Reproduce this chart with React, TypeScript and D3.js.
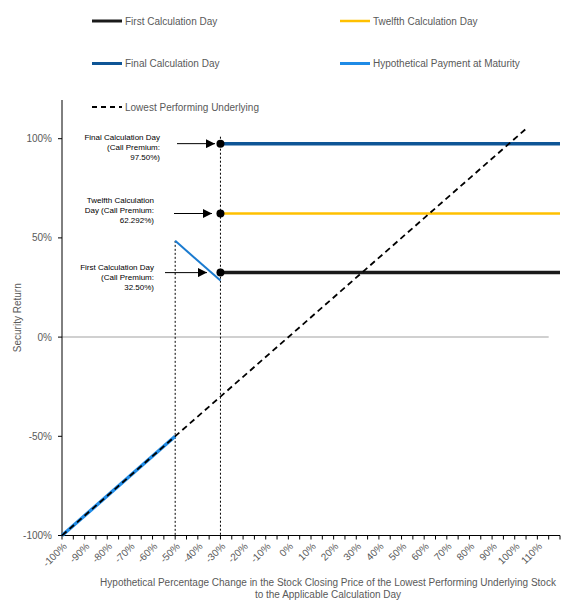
import React from "react";
import * as d3 from "d3";

const W = 575;
const H = 615;

const yTicks = [-100, -50, 0, 50, 100];
const xMinorTicks = d3.range(-100, 121, 5);
const xLabelTicks = d3.range(-100, 111, 10);

const callLevel = -30;
const barrierLevel = -50;
const firstPremium = 32.5;
const twelfthPremium = 62.292;
const finalPremium = 97.5;

const payoffLow: [number, number][] = [[-100, -100], [-50, -50]];
const payoffMid: [number, number][] = [[-50, 48.5], [-30, 28.5]];
const underlying: [number, number][] = [[-100, -100], [105, 105]];

const legendItems = [
  { label: "First Calculation Day", color: "#1a1a1a", dash: "", col: 0, row: 0, w: 3 },
  { label: "Twelfth Calculation Day", color: "#FFC000", dash: "", col: 1, row: 0, w: 2.5 },
  { label: "Final Calculation Day", color: "#0E5596", dash: "", col: 0, row: 1, w: 3 },
  { label: "Hypothetical Payment at Maturity", color: "#1F8BE6", dash: "", col: 1, row: 1, w: 3 },
  { label: "Lowest Performing Underlying", color: "#000", dash: "5,4", col: 0, row: 2, w: 2 },
];

const annotations = [
  { lines: ["Final Calculation Day", "(Call Premium:", "97.50%)"], value: finalPremium, right: 160, y0: 137.5, ax0: 177, ax1: 215 },
  { lines: ["Twelfth Calculation", "Day (Call Premium:", "62.292%)"], value: twelfthPremium, right: 154, y0: 200.5, ax0: 174, ax1: 212 },
  { lines: ["First Calculation Day", "(Call Premium:", "32.50%)"], value: firstPremium, right: 154, y0: 267.5, ax0: 165, ax1: 207 },
];

const levels = [
  { v: firstPremium, color: "#1a1a1a", w: 3.5 },
  { v: twelfthPremium, color: "#FFC000", w: 2.5 },
  { v: finalPremium, color: "#0E5596", w: 3.5 },
];

export default function App() {
  const x = d3.scaleLinear().domain([-100, 120]).range([62, 560]);
  const y = d3.scaleLinear().domain([-100, 119.5]).range([535.5, 100]);
  const line = d3.line<[number, number]>().x((d) => x(d[0])).y((d) => y(d[1]));
  const font = "'Liberation Sans', Arial, sans-serif";
  const textColor = "#595959";

  return (
    <svg width={W} height={H} style={{ position: "absolute", left: 0, top: 0, fontFamily: font }}>
      <defs>
        <marker id="arr" viewBox="0 0 10 10" refX="10" refY="5" markerWidth="9" markerHeight="9" markerUnits="userSpaceOnUse" orient="auto">
          <path d="M0,0 L10,5 L0,10 z" fill="#000" />
        </marker>
      </defs>
      <rect width={W} height={H} fill="#fff" />

      {/* legend */}
      {legendItems.map((it) => {
        const lx = it.col === 0 ? 92 : 340;
        const ly = [21, 63.5, 107][it.row];
        return (
          <g key={it.label}>
            <line x1={lx} x2={lx + 30} y1={ly} y2={ly} stroke={it.color} strokeWidth={it.w} strokeDasharray={it.dash} />
            <text x={lx + 33} y={ly} dy="0.35em" fontSize={10} fill={textColor}>{it.label}</text>
          </g>
        );
      })}

      {/* zero line */}
      <line x1={x(-100)} x2={x(115)} y1={y(0)} y2={y(0)} stroke="#d0d0d0" strokeWidth={2} />

      {/* y axis */}
      <line x1={x(-100)} x2={x(-100)} y1={100} y2={y(-100)} stroke="#000" strokeWidth={1} />
      {yTicks.map((t) => (
        <g key={t}>
          <line x1={x(-100) - 4} x2={x(-100)} y1={y(t)} y2={y(t)} stroke="#000" />
          <text x={52} y={y(t)} dy="0.35em" textAnchor="end" fontSize={10} fill={textColor}>{`${t}%`}</text>
        </g>
      ))}
      <text transform={`translate(17,${(100 + y(-100)) / 2}) rotate(-90)`} textAnchor="middle" dy="0.35em" fontSize={10} fill={textColor}>Security Return</text>

      {/* x axis */}
      <line x1={x(-100)} x2={x(120)} y1={y(-100)} y2={y(-100)} stroke="#000" strokeWidth={1} />
      {xMinorTicks.map((t) => (
        <line key={t} x1={x(t)} x2={x(t)} y1={y(-100)} y2={y(-100) + 4} stroke="#000" />
      ))}
      {xLabelTicks.map((t) => (
        <text key={t} transform={`translate(${x(t) + 3},${y(-100) + 9}) rotate(-45)`} textAnchor="end" dy="0.35em" fontSize={10} fill={textColor}>{`${t}%`}</text>
      ))}
      <text x={328} y={582} dy="0.35em" textAnchor="middle" fontSize={10} fill={textColor}>Hypothetical Percentage Change in the Stock Closing Price of the Lowest Performing Underlying Stock</text>
      <text x={328} y={594} dy="0.35em" textAnchor="middle" fontSize={10} fill={textColor}>to the Applicable Calculation Day</text>

      {/* dotted verticals */}
      <line x1={x(barrierLevel)} x2={x(barrierLevel)} y1={y(48.5)} y2={y(-100)} stroke="#000" strokeWidth={1} strokeDasharray="2,2" />
      <line x1={x(callLevel)} x2={x(callLevel)} y1={y(101)} y2={y(-100)} stroke="#000" strokeWidth={1} strokeDasharray="2,2" />

      {/* premium levels */}
      {levels.map((l) => (
        <line key={l.v} x1={x(callLevel)} x2={x(120)} y1={y(l.v)} y2={y(l.v)} stroke={l.color} strokeWidth={l.w} />
      ))}

      {/* payment at maturity */}
      <path d={line(payoffLow) ?? ""} stroke="#1F8BE6" strokeWidth={3.5} fill="none" />
      <path d={line(payoffMid) ?? ""} stroke="#1A7BD0" strokeWidth={2} fill="none" />

      {/* underlying */}
      <path d={line(underlying) ?? ""} stroke="#000" strokeWidth={1.8} strokeDasharray="6,4" fill="none" />

      {/* dots */}
      {levels.map((l) => (
        <circle key={l.v} cx={x(callLevel)} cy={y(l.v)} r={4} fill="#000" />
      ))}

      {/* annotations */}
      {annotations.map((a) => (
        <g key={a.value}>
          {a.lines.map((s, i) => (
            <text key={i} x={a.right} y={a.y0 + i * 9.7} dy="0.35em" textAnchor="end" fontSize={8} fill="#000">{s}</text>
          ))}
          <line x1={a.ax0} x2={a.ax1} y1={y(a.value)} y2={y(a.value)} stroke="#000" strokeWidth={1} markerEnd="url(#arr)" />
        </g>
      ))}
    </svg>
  );
}
